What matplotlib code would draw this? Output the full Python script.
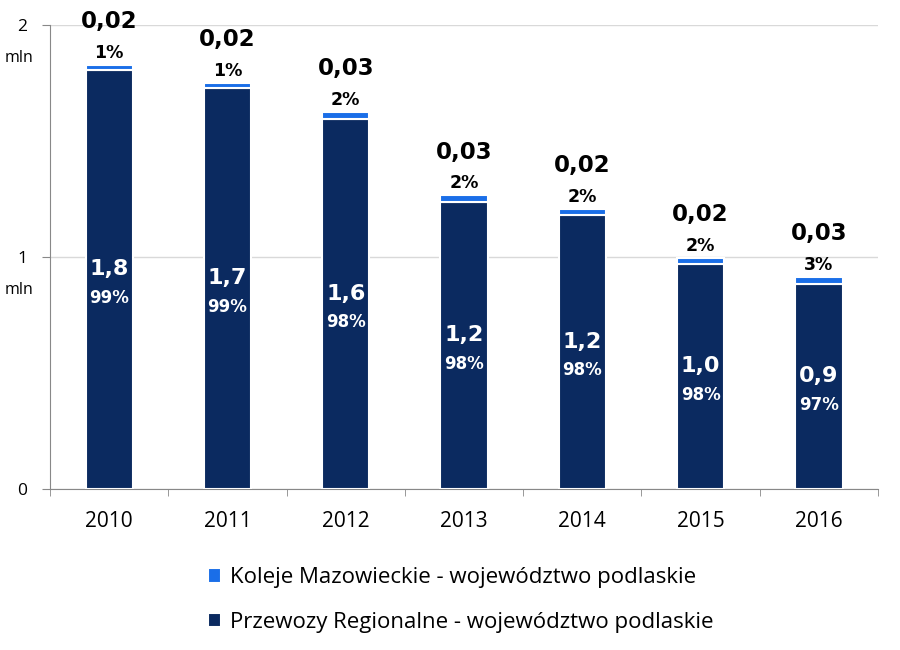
import matplotlib.pyplot as plt
import numpy as np

years = ["2010", "2011", "2012", "2013", "2014", "2015", "2016"]
przewozy = [1.806, 1.728, 1.595, 1.237, 1.181, 0.970, 0.884]
koleje = [0.022, 0.022, 0.030, 0.030, 0.026, 0.026, 0.030]
przewozy_labels = ["1,8", "1,7", "1,6", "1,2", "1,2", "1,0", "0,9"]
przewozy_pct = ["99%", "99%", "98%", "98%", "98%", "98%", "97%"]
koleje_labels = ["0,02", "0,02", "0,03", "0,03", "0,02", "0,02", "0,03"]
koleje_pct = ["1%", "1%", "2%", "2%", "2%", "2%", "3%"]
yticks = [0, 1, 2]
ytick_labels = ["0", "1", "2"]
yunit_labels = ["", "mln", "mln"]

dark = "#0b2a60"
light = "#1a6ee8"

fig = plt.figure(figsize=(9, 6.5), dpi=100)
ax = fig.add_axes([0.0556, 0.2477, 0.92, 0.7138])
x = np.arange(len(years))
w = 0.4

ax.bar(x, przewozy, w, color=dark, edgecolor="white", linewidth=1.5, zorder=3,
       label="Przewozy Regionalne - województwo podlaskie")
ax.bar(x, koleje, w, bottom=przewozy, color=light, edgecolor="white", linewidth=1.5, zorder=3,
       label="Koleje Mazowieckie - województwo podlaskie")

bold = "DejaVu Sans"
for i in range(len(years)):
    mid = przewozy[i] / 2
    ax.annotate(przewozy_labels[i], (x[i], mid), xytext=(0, 7.5), textcoords="offset points",
                ha="center", va="center", color="white", fontsize=16, fontweight="bold",
                family=bold, zorder=4)
    ax.annotate(przewozy_pct[i], (x[i], mid), xytext=(0, -13), textcoords="offset points",
                ha="center", va="center", color="white", fontsize=12, fontweight="bold",
                family=bold, zorder=4)
    top = przewozy[i] + koleje[i]
    ax.annotate(koleje_pct[i], (x[i], top), xytext=(0, 8.5), textcoords="offset points",
                ha="center", va="center", color="black", fontsize=12.5, fontweight="bold",
                family=bold, annotation_clip=False)
    ax.annotate(koleje_labels[i], (x[i], top), xytext=(0, 31), textcoords="offset points",
                ha="center", va="center", color="black", fontsize=16.5, fontweight="bold",
                family=bold, annotation_clip=False)

ax.set_xlim(-0.5, len(years) - 0.5)
ax.set_ylim(0, 2)
ax.set_yticks(yticks)
ax.set_yticklabels(ytick_labels, fontsize=12.5, family="Open Sans", ha="center")
for v, u in zip(yticks, yunit_labels):
    if u:
        ax.annotate(u, (0, v), xycoords=ax.get_yaxis_transform(), xytext=(-22, -24),
                    textcoords="offset points", ha="center", va="center",
                    fontsize=11.5, family="Open Sans", annotation_clip=False)
ax.set_xticks(x)
ax.set_xticklabels(years, fontsize=15, family="Open Sans")
ax.set_xticks(np.arange(len(years) + 1) - 0.5, minor=True)
ax.tick_params(axis="x", which="major", length=0, pad=16)
ax.tick_params(axis="x", which="minor", length=5, color="#888888")
ax.tick_params(axis="y", length=6, color="#888888", pad=14)
ax.yaxis.grid(True, color="#d9d9d9", linewidth=1, zorder=0)
ax.set_axisbelow(True)
for s in ["top", "right"]:
    ax.spines[s].set_visible(False)
for s in ["left", "bottom"]:
    ax.spines[s].set_color("#888888")

h, l = ax.get_legend_handles_labels()
fig.legend(h[::-1], l[::-1], loc="upper left", bbox_to_anchor=(0.209, 0.158),
           frameon=False, prop={"family": "Open Sans", "size": 16},
           handlelength=0.6, handleheight=0.6, handletextpad=0.4, labelspacing=1.05)

fig.savefig("out.png", dpi=100)
